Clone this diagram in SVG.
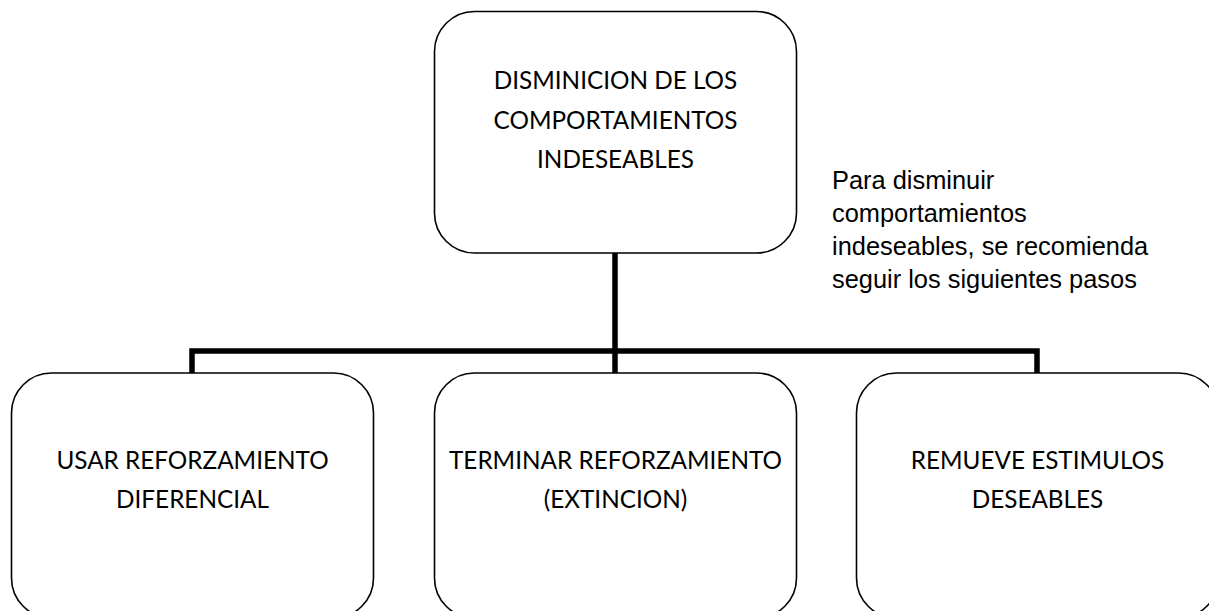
<svg xmlns="http://www.w3.org/2000/svg" width="1209" height="611" viewBox="0 0 1209 611">
<style>
.box{fill:#fff;stroke:#000;stroke-width:1.6}
.lbl{font-family:Lato,"Open Sans","DejaVu Sans",sans-serif;font-size:24.3px;fill:#000;text-anchor:middle}
.note{font-family:"Liberation Sans",Arial,sans-serif;font-size:25.4px;fill:#000}
.conn{fill:none;stroke:#000;stroke-width:5.5;stroke-linejoin:miter}
</style>
<rect x="0" y="0" width="1209" height="611" fill="#fff"/>
<g id="connectors">
<line class="conn" x1="615" y1="253" x2="615" y2="373"/>
<polyline class="conn" points="192,373 192,351 1037,351 1037,373"/>
</g>
<g id="node-top">
<rect class="box" x="434.5" y="11.5" width="362" height="241.5" rx="40" ry="40"/>
<text class="lbl"><tspan x="615.5" y="89">DISMINICION DE LOS</tspan><tspan x="615.5" y="128.5">COMPORTAMIENTOS</tspan><tspan x="615.5" y="168">INDESEABLES</tspan></text>
</g>
<g id="node-note">
<text class="note"><tspan x="832" y="189">Para disminuir</tspan><tspan x="832" y="222">comportamientos</tspan><tspan x="832" y="255">indeseables, se recomienda</tspan><tspan x="832" y="288">seguir los siguientes pasos</tspan></text>
</g>
<g id="node-left">
<rect class="box" x="11.5" y="373" width="362" height="245" rx="40" ry="40"/>
<text class="lbl"><tspan x="192.5" y="469">USAR REFORZAMIENTO</tspan><tspan x="192.5" y="508">DIFERENCIAL</tspan></text>
</g>
<g id="node-middle">
<rect class="box" x="434.5" y="373" width="362" height="245" rx="40" ry="40"/>
<text class="lbl"><tspan x="615.5" y="469">TERMINAR REFORZAMIENTO</tspan><tspan x="615.5" y="508">(EXTINCION)</tspan></text>
</g>
<g id="node-right">
<rect class="box" x="856.5" y="373" width="362" height="245" rx="40" ry="40"/>
<text class="lbl"><tspan x="1037.5" y="469">REMUEVE ESTIMULOS</tspan><tspan x="1037.5" y="508">DESEABLES</tspan></text>
</g>
</svg>
